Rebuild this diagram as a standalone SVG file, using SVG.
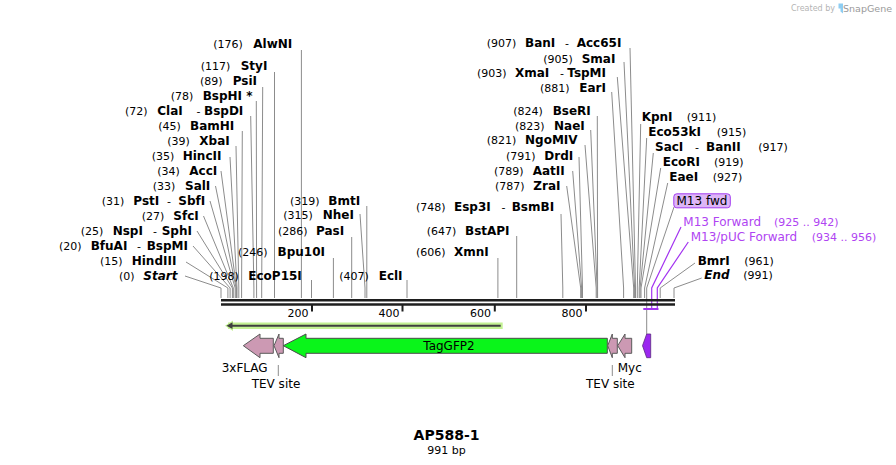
<svg xmlns="http://www.w3.org/2000/svg" width="896" height="465" viewBox="0 0 896 465">
<style>
.n{font-family:"DejaVu Sans",Verdana,sans-serif;font-size:11px;fill:#000}
.e{font-family:"DejaVu Sans",Verdana,sans-serif;font-size:12px;font-weight:bold;fill:#000}
.d{font-family:"DejaVu Sans",Verdana,sans-serif;font-size:11px;fill:#000}
.ei{font-family:"DejaVu Sans",Verdana,sans-serif;font-size:12px;font-weight:bold;font-style:italic;fill:#000}
.f{font-family:"DejaVu Sans",Verdana,sans-serif;font-size:12px;fill:#000}
.pt{font-family:"DejaVu Sans",Verdana,sans-serif;font-size:12px;fill:#b044f2}
.ld{fill:none;stroke:#8c8c8c;stroke-width:1}
.pld{fill:none;stroke:#a334f0;stroke-width:1.2}
.bb{stroke:#1e1e1e;stroke-width:2.5}
.tk{stroke:#1e1e1e;stroke-width:2}
.pink{fill:#cc99b3;stroke:#5a5a5a;stroke-width:1}
</style>
<rect width="896" height="465" fill="#fff"/>

<!-- watermark -->
<g id="watermark">
<text x="835" y="11" text-anchor="end" style="font-family:'DejaVu Sans',sans-serif;font-size:8px;fill:#b4b4b4">Created by</text>
<path d="M838.5,3.5 h4.5 v10 l-2.5,-2 v-3 h-2 z" fill="#8ecdf2"/>
<text x="892" y="12" text-anchor="end" style="font-family:'DejaVu Sans',sans-serif;font-size:9.5px;fill:#9a9a9a">SnapGene</text>
</g>

<!-- connectors -->
<g id="connectors">
<polyline class="ld" points="301.4,50 301.4,298"/>
<polyline class="ld" points="274.5,72 274.5,298"/>
<polyline class="ld" points="262.7,87 261.7,288 261.7,298"/>
<polyline class="ld" points="256.3,101 256.6,298"/>
<polyline class="ld" points="250.7,116 253.9,288 253.9,298"/>
<polyline class="ld" points="242.3,131 241.6,288 241.6,298"/>
<polyline class="ld" points="236,146 238.8,288 238.8,298"/>
<polyline class="ld" points="230,157 237,288 237,298"/>
<polyline class="ld" points="221,171 236.5,288 236.5,298"/>
<polyline class="ld" points="215.5,186 236.1,288 236.1,298"/>
<polyline class="ld" points="210,201 235.2,288 235.2,298"/>
<polyline class="ld" points="203.5,216 233.3,288 233.3,298"/>
<polyline class="ld" points="197,231 232.4,288 232.4,298"/>
<polyline class="ld" points="193,246 230.1,288 230.1,298"/>
<polyline class="ld" points="186,262 227.9,288 227.9,298"/>
<polyline class="ld" points="185,276 221,288 221,298"/>
<polyline class="ld" points="311.5,280 311.5,298"/>
<polyline class="ld" points="333.4,258 333.4,298"/>
<polyline class="ld" points="351.7,237 351.7,298"/>
<polyline class="ld" points="360,214 365,288 365,298"/>
<polyline class="ld" points="366.8,206 366.8,298"/>
<polyline class="ld" points="407,280 407,298"/>
<polyline class="ld" points="497.9,258 497.9,298"/>
<polyline class="ld" points="516.7,236 516.7,298"/>
<polyline class="ld" points="561,214 562.8,288 562.8,298"/>
<polyline class="ld" points="566.7,186 580.7,288 580.7,298"/>
<polyline class="ld" points="572.7,171 581.6,288 581.6,298"/>
<polyline class="ld" points="579,157 582.5,288 582.5,298"/>
<polyline class="ld" points="585,145 596.2,288 596.2,298"/>
<polyline class="ld" points="590.7,130 597.1,288 597.1,298"/>
<polyline class="ld" points="597.3,116 597.6,298"/>
<polyline class="ld" points="611.7,92 623.6,288 623.6,298"/>
<polyline class="ld" points="617.3,77 633.7,288 633.7,298"/>
<polyline class="ld" points="624,62 634.6,288 634.6,298"/>
<polyline class="ld" points="630,48 635.5,288 635.5,298"/>
<polyline class="ld" points="640.7,124 637.3,288 637.3,298"/>
<polyline class="ld" points="646.7,138 639.2,288 639.2,298"/>
<polyline class="ld" points="653.3,153 640.1,288 640.1,298"/>
<polyline class="ld" points="660.7,168 641,288 641,298"/>
<polyline class="ld" points="667.7,183 644.6,288 644.6,298"/>
<polyline class="ld" points="674,207 646.7,288 646.7,334"/>
<polyline class="ld" points="695,263 660.2,288 660.2,298"/>
<polyline class="ld" points="701.7,278 674,288 674,298"/>
<polyline class="pld" points="681,227 651.7,288 651.7,309"/>
<polyline class="pld" points="688.3,242 657.3,288 657.3,309"/>
<line x1="643.3" y1="309" x2="658.5" y2="309" stroke="#a334f0" stroke-width="2"/>
<line x1="278.3" y1="365" x2="278.3" y2="376" stroke="#8c8c8c"/>
<line x1="612.3" y1="365" x2="612.3" y2="376" stroke="#8c8c8c"/>
</g>

<!-- backbone & ruler -->
<g id="backbone">
<line class="bb" x1="221" y1="300.3" x2="675" y2="300.3"/>
<line class="bb" x1="221" y1="304.5" x2="675" y2="304.5"/>
<line class="tk" x1="312" y1="305" x2="312" y2="311.5"/>
<line class="tk" x1="402.5" y1="305" x2="402.5" y2="311.5"/>
<line class="tk" x1="494.8" y1="305" x2="494.8" y2="311.5"/>
<line class="tk" x1="586" y1="305" x2="586" y2="311.5"/>
<text class="d" x="308.5" y="317" text-anchor="end">200</text>
<text class="d" x="399.5" y="317" text-anchor="end">400</text>
<text class="d" x="491" y="317" text-anchor="end">600</text>
<text class="d" x="582.5" y="317" text-anchor="end">800</text>
</g>

<!-- left cut sites -->
<g id="site-AlwNI"><text class="n" x="213.3" y="47.5">(176)</text><text class="e" x="253.3" y="47.5">AlwNI</text></g>
<g id="site-StyI"><text class="n" x="200.7" y="69.5">(117)</text><text class="e" x="240.7" y="69.5">StyI</text></g>
<g id="site-PsiI"><text class="n" x="200" y="84.5">(89)</text><text class="e" x="232.7" y="84.5">PsiI</text></g>
<g id="site-BspHI"><text class="n" x="170.7" y="99.5">(78)</text><text class="e" x="202.7" y="99.5">BspHI *</text></g>
<g id="site-ClaI"><text class="n" x="125" y="114.5">(72)</text><text class="e" x="157.3" y="114.5">ClaI</text><text class="n" x="196.5" y="114.5">-</text><text class="e" x="204" y="114.5">BspDI</text></g>
<g id="site-BamHI"><text class="n" x="158.3" y="129.5">(45)</text><text class="e" x="190" y="129.5">BamHI</text></g>
<g id="site-XbaI"><text class="n" x="167.3" y="144.5">(39)</text><text class="e" x="199.3" y="144.5">XbaI</text></g>
<g id="site-HincII"><text class="n" x="151.7" y="159.5">(35)</text><text class="e" x="182.7" y="159.5">HincII</text></g>
<g id="site-AccI"><text class="n" x="157.3" y="174.5">(34)</text><text class="e" x="189.3" y="174.5">AccI</text></g>
<g id="site-SalI"><text class="n" x="152.7" y="189.5">(33)</text><text class="e" x="185" y="189.5">SalI</text></g>
<g id="site-PstI"><text class="n" x="101.7" y="204.5">(31)</text><text class="e" x="133.3" y="204.5">PstI</text><text class="n" x="167" y="204.5">-</text><text class="e" x="178.3" y="204.5">SbfI</text></g>
<g id="site-SfcI"><text class="n" x="141.7" y="219.5">(27)</text><text class="e" x="173.3" y="219.5">SfcI</text></g>
<g id="site-NspI"><text class="n" x="80.7" y="234.5">(25)</text><text class="e" x="112.7" y="234.5">NspI</text><text class="n" x="153" y="234.5">-</text><text class="e" x="161.7" y="234.5">SphI</text></g>
<g id="site-BfuAI"><text class="n" x="59" y="249.5">(20)</text><text class="e" x="90.7" y="249.5">BfuAI</text><text class="n" x="137" y="249.5">-</text><text class="e" x="146.7" y="249.5">BspMI</text></g>
<g id="site-HindIII"><text class="n" x="100" y="264.5">(15)</text><text class="e" x="131.7" y="264.5">HindIII</text></g>
<g id="site-Start"><text class="n" x="119" y="279.5">(0)</text><text class="ei" x="143.3" y="279.5">Start</text></g>

<!-- middle cut sites -->
<g id="site-EcoP15I"><text class="n" x="209.3" y="279.5">(198)</text><text class="e" x="248.3" y="279.5">EcoP15I</text></g>
<g id="site-Bpu10I"><text class="n" x="238" y="256">(246)</text><text class="e" x="277.6" y="256">Bpu10I</text></g>
<g id="site-PasI"><text class="n" x="278" y="234.5">(286)</text><text class="e" x="316" y="234.5">PasI</text></g>
<g id="site-NheI"><text class="n" x="283.3" y="219">(315)</text><text class="e" x="322.7" y="219">NheI</text></g>
<g id="site-BmtI"><text class="n" x="290" y="204.5">(319)</text><text class="e" x="328.3" y="204.5">BmtI</text></g>
<g id="site-EclI"><text class="n" x="339.3" y="279.5">(407)</text><text class="e" x="378.7" y="279.5">EclI</text></g>
<g id="site-XmnI"><text class="n" x="416" y="256">(606)</text><text class="e" x="454" y="256">XmnI</text></g>
<g id="site-BstAPI"><text class="n" x="426.7" y="234.5">(647)</text><text class="e" x="465" y="234.5">BstAPI</text></g>
<g id="site-Esp3I"><text class="n" x="416" y="211">(748)</text><text class="e" x="454" y="211">Esp3I</text><text class="n" x="501.5" y="211">-</text><text class="e" x="511.7" y="211">BsmBI</text></g>
<g id="site-ZraI"><text class="n" x="495" y="189.5">(787)</text><text class="e" x="533.3" y="189.5">ZraI</text></g>
<g id="site-AatII"><text class="n" x="494" y="174.5">(789)</text><text class="e" x="532.7" y="174.5">AatII</text></g>
<g id="site-DrdI"><text class="n" x="506" y="159.5">(791)</text><text class="e" x="544.3" y="159.5">DrdI</text></g>
<g id="site-NgoMIV"><text class="n" x="486.7" y="144">(821)</text><text class="e" x="525" y="144">NgoMIV</text></g>
<g id="site-NaeI"><text class="n" x="515" y="129.5">(823)</text><text class="e" x="554" y="129.5">NaeI</text></g>
<g id="site-BseRI"><text class="n" x="513.3" y="114.5">(824)</text><text class="e" x="552.7" y="114.5">BseRI</text></g>
<g id="site-EarI"><text class="n" x="540" y="91.7">(881)</text><text class="e" x="579.3" y="91.7">EarI</text></g>
<g id="site-XmaI"><text class="n" x="477" y="77">(903)</text><text class="e" x="515" y="77">XmaI</text><text class="n" x="560" y="77">-</text><text class="e" x="567.3" y="77">TspMI</text></g>
<g id="site-SmaI"><text class="n" x="543.3" y="62.5">(905)</text><text class="e" x="581.7" y="62.5">SmaI</text></g>
<g id="site-BanI"><text class="n" x="486.7" y="47">(907)</text><text class="e" x="525" y="47">BanI</text><text class="n" x="565" y="47">-</text><text class="e" x="576.7" y="47">Acc65I</text></g>

<!-- right cut sites -->
<g id="site-KpnI"><text class="e" x="641.7" y="121">KpnI</text><text class="n" x="686.7" y="121">(911)</text></g>
<g id="site-Eco53kI"><text class="e" x="648.3" y="136">Eco53kI</text><text class="n" x="716.7" y="136">(915)</text></g>
<g id="site-SacI"><text class="e" x="655" y="151">SacI</text><text class="n" x="695" y="151">-</text><text class="e" x="706" y="151">BanII</text><text class="n" x="758.3" y="151">(917)</text></g>
<g id="site-EcoRI"><text class="e" x="662.7" y="166">EcoRI</text><text class="n" x="714" y="166">(919)</text></g>
<g id="site-EaeI"><text class="e" x="669.3" y="181">EaeI</text><text class="n" x="712.7" y="181">(927)</text></g>
<g id="site-BmrI"><text class="e" x="697.7" y="264.5">BmrI</text><text class="n" x="744.3" y="264.5">(961)</text></g>
<g id="site-End"><text class="ei" x="704.3" y="279">End</text><text class="n" x="743.3" y="279">(991)</text></g>

<!-- primer binding labels -->
<g id="primer-M13Forward"><text class="pt" x="683.3" y="226">M13 Forward</text><text class="pt" x="774" y="226" style="font-size:11px">(925 .. 942)</text></g>
<g id="primer-M13pUCForward"><text class="pt" x="690.7" y="241">M13/pUC Forward</text><text class="pt" x="811.7" y="241" style="font-size:11px">(934 .. 956)</text></g>

<!-- ORF -->
<g id="orf">
<line x1="228" y1="325.7" x2="502.7" y2="325.7" stroke="#c3f193" stroke-width="6.5"/>
<path d="M225,325.7 L233,320.5 L233,330.9 Z" fill="#c3f193"/>
<line x1="230" y1="325.7" x2="500.7" y2="325.7" stroke="#3f3f3f" stroke-width="2"/>
<path d="M226.5,325.7 L232.5,322.3 L232.5,329.1 Z" fill="#3f3f3f"/>
</g>

<!-- features -->
<g id="feature-3xFLAG">
<polygon class="pink" points="243.3,345.7 260,334 260,338.3 273.3,338.3 273.3,353.3 260,353.3 260,357.7"/>
<text class="f" x="221.7" y="372">3xFLAG</text>
</g>
<g id="feature-TEV-left">
<polygon class="pink" points="274,345.7 279,334 279,338.3 283.3,338.3 283.3,353.3 279,353.3 279,357.7"/>
<text class="f" x="251.7" y="388">TEV site</text>
</g>
<g id="feature-TagGFP2">
<polygon points="283.3,345.7 306,334 306,338.3 607.3,338.3 607.3,353.3 306,353.3 306,357.7" fill="#0af51a" stroke="#4a4a4a" stroke-width="1"/>
<text class="f" x="449" y="350" text-anchor="middle">TagGFP2</text>
</g>
<g id="feature-TEV-right">
<polygon class="pink" points="607.7,345.7 612.3,334 612.3,338.3 617.3,338.3 617.3,353.3 612.3,353.3 612.3,357.7"/>
<text class="f" x="586" y="388">TEV site</text>
</g>
<g id="feature-Myc">
<polygon class="pink" points="617.7,345.7 625,334 625,338.3 631.7,338.3 631.7,353.3 625,353.3 625,357.7"/>
<text class="f" x="617.7" y="372">Myc</text>
</g>
<g id="feature-M13fwd">
<polygon points="642.5,345.7 646.7,334 650.7,334 650.7,357.7 646.7,357.7" fill="#9b27f0" stroke="#5a2a80" stroke-width="0.8"/>
<rect x="673.8" y="193.8" width="56.5" height="14" rx="3" ry="3" fill="#ddb6f7" stroke="#a33cf0" stroke-width="1"/>
<text class="f" x="676.5" y="205">M13 fwd</text>
</g>

<!-- title -->
<g id="title">
<text x="446.5" y="440" text-anchor="middle" style="font-family:'DejaVu Sans',Verdana,sans-serif;font-size:14px;font-weight:bold">AP588-1</text>
<text x="446.5" y="453.5" text-anchor="middle" style="font-family:'DejaVu Sans',Verdana,sans-serif;font-size:11px">991 bp</text>
</g>
</svg>
